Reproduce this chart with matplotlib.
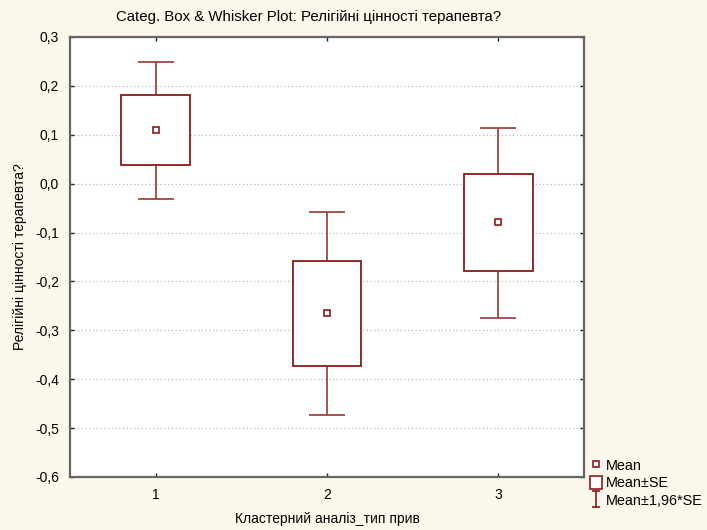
import matplotlib
matplotlib.use("Agg")
import matplotlib.pyplot as plt
from matplotlib.lines import Line2D
from matplotlib.patches import Patch
from matplotlib.path import Path

# values (mean, mean±SE, mean±1.96*SE)
groups = [1, 2, 3]
means = [0.110, -0.265, -0.079]
se_lo = [0.039, -0.372, -0.178]
se_hi = [0.181, -0.159, 0.019]
ci_lo = [-0.031, -0.473, -0.274]
ci_hi = [0.249, -0.057, 0.114]
yticks = [0.3, 0.2, 0.1, 0.0, -0.1, -0.2, -0.3, -0.4, -0.5, -0.6]

RED = "#8b1a1a"
BG = "#fdf8ec"

plt.rcParams.update({"font.family": ["Liberation Sans", "DejaVu Sans"], "font.size": 9})

fig = plt.figure(figsize=(7.07, 5.30), dpi=100, facecolor=BG)
ax = fig.add_axes([70 / 707, 1 - 477 / 530, (584 - 70) / 707, (477 - 37) / 530])
ax.set_facecolor("white")

# whiskers first, the white boxes hide the part inside
yerr = [[m - lo for m, lo in zip(means, ci_lo)], [hi - m for m, hi in zip(means, ci_hi)]]
ax.errorbar(groups, means, yerr=yerr, fmt="none", ecolor="#a04444", elinewidth=1.3,
            capsize=13, capthick=1.3, zorder=2)
ax.bar(groups, [h - l for h, l in zip(se_hi, se_lo)], bottom=se_lo, width=0.4,
       facecolor="white", edgecolor=RED, linewidth=1.3, zorder=3)
ax.plot(groups, means, ls="none", marker="s", ms=5, mfc="white", mec=RED, mew=1.2, zorder=4)

ax.set_xlim(0.5, 3.5)
ax.set_ylim(-0.6, 0.3)
ax.set_xticks(groups)
ax.set_yticks(yticks)
ax.set_yticklabels([f"{t:.1f}".replace(".", ",").replace("-0,0", "0,0") for t in yticks])
ax.yaxis.grid(True, ls=(0, (1, 2)), color="#bbbbbb", lw=0.9)
ax.set_axisbelow(True)
ax.tick_params(direction="in", length=3, width=1, color="#222222", top=True, right=True,
               labelsize=10)
ax.tick_params(axis="x", pad=8)
ax.tick_params(axis="y", pad=8)
for s in ax.spines.values():
    s.set_color("#666666")
    s.set_linewidth(1.6)

ax.set_ylabel("Релігійні цінності терапевта?", fontsize=10, labelpad=6)
ax.set_xlabel("Кластерний аналіз_тип прив", fontsize=10, labelpad=7)
fig.text(309 / 707, 1 - 17 / 530, "Categ. Box & Whisker Plot: Релігійні цінності терапевта?",
         ha="center", va="center", fontsize=10.8,
         family=["Liberation Sans Narrow", "Liberation Sans"])

# legend: small square, box, whisker glyph
whisk = Path([(-0.5, 1), (0.5, 1), (0, 1), (0, -1), (-0.5, -1), (0.5, -1)],
             [Path.MOVETO, Path.LINETO, Path.MOVETO, Path.LINETO, Path.MOVETO, Path.LINETO])
handles = [
    Line2D([], [], ls="none", marker="s", ms=5, mfc="white", mec=RED, mew=1.2),
    Patch(facecolor="white", edgecolor=RED, linewidth=1.2),
    Line2D([], [], ls="none", marker=whisk, ms=11, mfc="none", mec=RED, mew=1.2),
]
fig.legend(handles, ["Mean", "Mean±SE", "Mean±1,96*SE"], loc="upper left",
           bbox_to_anchor=(580 / 707, 1 - 448 / 530), frameon=False, fontsize=10.4,
           handlelength=0.85, handleheight=1.0, handletextpad=0.25, labelspacing=0.22,
           borderpad=0.2)

fig.savefig("out.png", dpi=100, facecolor=BG)
